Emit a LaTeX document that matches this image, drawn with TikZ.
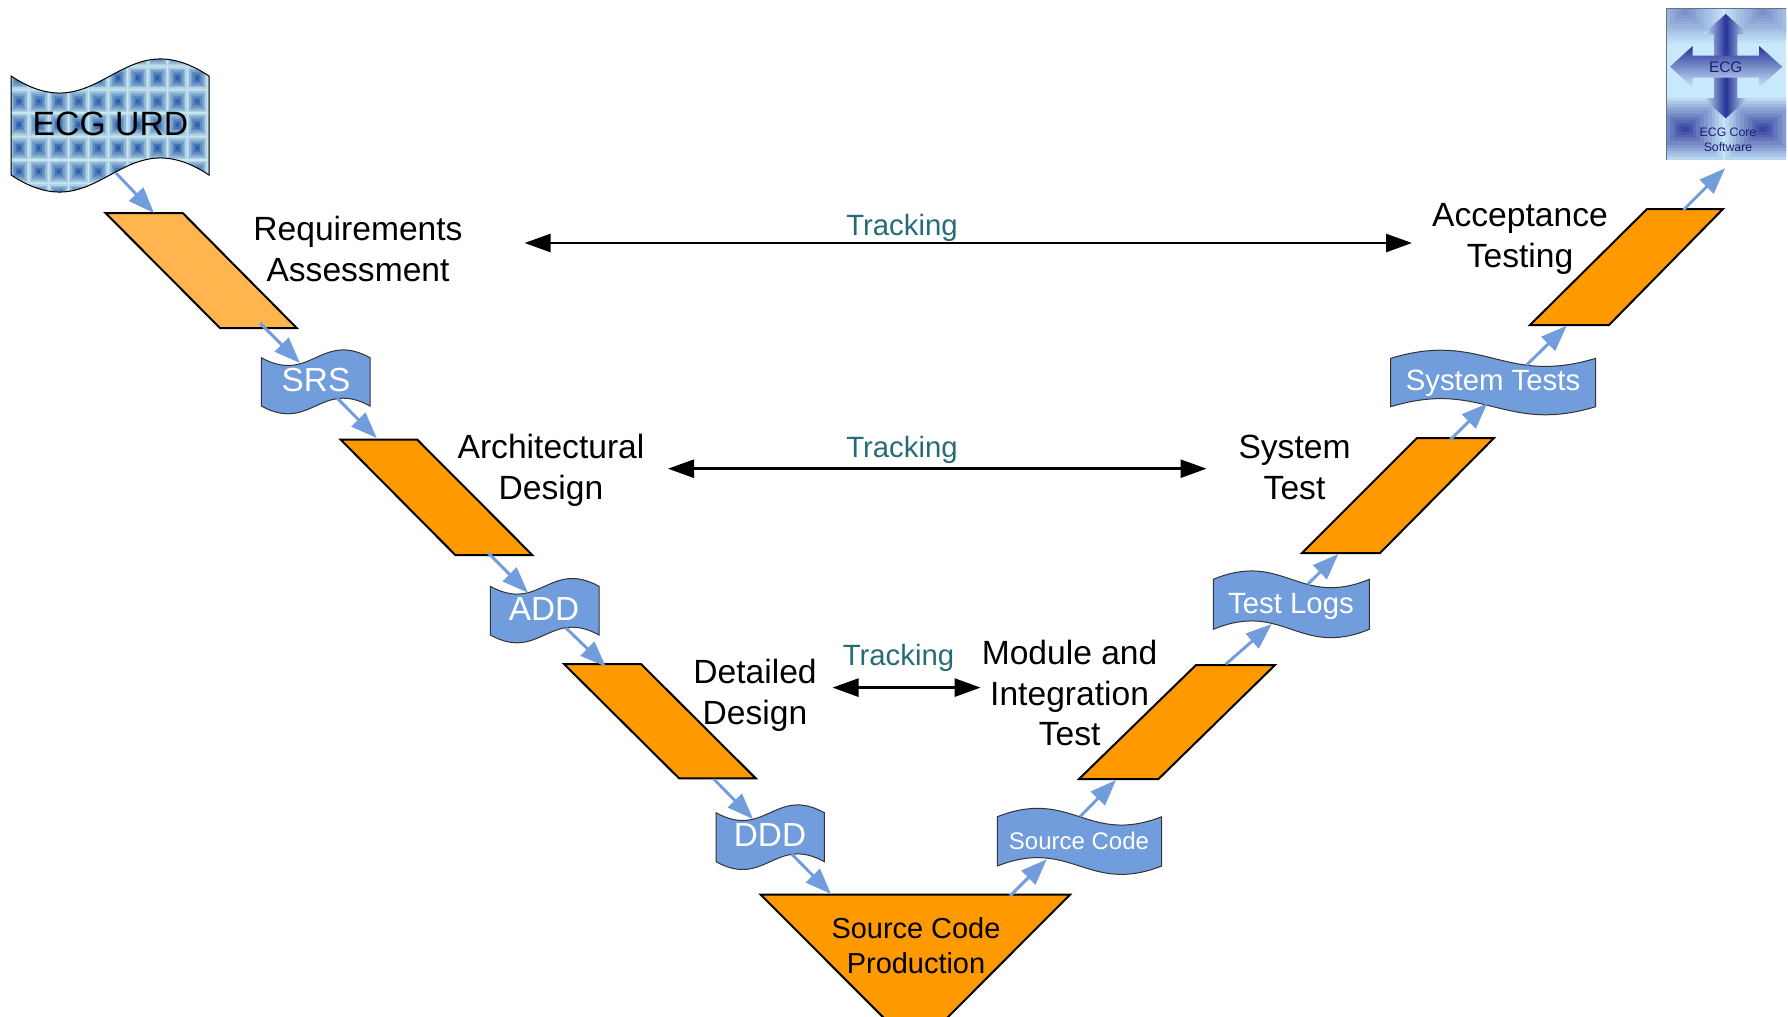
\documentclass[tikz,border=0pt]{standalone}
\usepackage{fontspec}
\setmainfont{Liberation Sans}
\usetikzlibrary{arrows.meta}
\definecolor{flowblue}{RGB}{113,157,220}
\definecolor{steporange}{RGB}{255,153,0}
\definecolor{steplight}{RGB}{255,181,77}
\definecolor{trackteal}{RGB}{38,108,120}
\definecolor{tiledark}{RGB}{45,95,170}
\definecolor{tilelight}{RGB}{200,232,240}
\definecolor{logobg}{RGB}{200,232,251}
\definecolor{logodark}{RGB}{40,50,150}
\definecolor{logotext}{RGB}{30,30,110}
% l, r, top, bottom, swing
\newcommand{\wavedoc}[5]{(#1,#3) .. controls ({#1+(#2-#1)*0.45},{#3+#5}) and ({#1+(#2-#1)*0.55},{#3-#5}) .. (#2,#3) -- (#2,#4) .. controls ({#1+(#2-#1)*0.55},{#4-#5}) and ({#1+(#2-#1)*0.45},{#4+#5}) .. (#1,#4) -- cycle}
\tikzset{
  stepshape/.style={draw=black,line width=1.5pt,fill=steporange,line join=miter},
  docshape/.style={draw=black!80,line width=0.75pt,fill=flowblue},
  flowline/.style={draw=flowblue,line width=2.2pt,-{Triangle[length=19.5pt,width=14.5pt]}},
  trackline/.style={draw=black,line width=2pt,{Triangle[length=19.5pt,width=13.5pt]}-{Triangle[length=19.5pt,width=13.5pt]}},
  steptext/.style={align=center,font=\fontsize{25.2}{30.5}\selectfont},
  tracktext/.style={text=trackteal,font=\fontsize{22}{26}\selectfont},
  doctext/.style={text=white,font=\fontsize{25}{30}\selectfont},
  smalldoctext/.style={text=white,font=\fontsize{22}{26}\selectfont},
}
\begin{document}
\begin{tikzpicture}[x=0.75pt,y=0.75pt,yscale=-1,xscale=1]
\clip [use as bounding box] (0,0) rectangle (1788,1017);

%Shape: Wave ECG URD
\begin{scope}
  \clip \wavedoc{11}{209}{76}{175}{59};
  \fill [tilelight] (0,40) rectangle (220,200);
  \foreach \col in {0,...,10}{
    \foreach \row in {-1,...,5}{
      \foreach \sz/\mix in {9.4/85,8/65,6.4/48,4.8/32,3.2/16,1.6/0}{
        \fill [tilelight!\mix!tiledark] ({19+19.8*\col-\sz},{78+23.4*\row-\sz*1.18}) rectangle ({19+19.8*\col+\sz},{78+23.4*\row+\sz*1.18});
      }
    }
  }
\end{scope}
\draw [draw=black,line width=0.75pt] \wavedoc{11}{209}{76}{175}{59};

%Shape: Parallelogram
\draw [stepshape,fill=steplight] (105.5,213) -- (182.7,213) -- (296.7,328) -- (220,328) -- cycle ;
\draw [stepshape] (340.7,439.7) -- (417.3,439.7) -- (532.3,555) -- (455.3,555) -- cycle ;
\draw [stepshape] (564,664) -- (641,664) -- (755.7,778.3) -- (679,778.3) -- cycle ;
\draw [stepshape] (1196,665) -- (1275,665) -- (1158.5,779) -- (1079,779) -- cycle ;
\draw [stepshape] (1417,438) -- (1494,438) -- (1380,553) -- (1302,553) -- cycle ;
\draw [stepshape] (1647,209) -- (1723,209) -- (1609,325) -- (1530,325) -- cycle ;
%Shape: Triangle
\draw [stepshape] (760.7,894.7) -- (1070,894.7) -- (915.4,1049.6) -- cycle ;

%Shape: Wave
\draw [docshape] \wavedoc{261.3}{370}{357.7}{406}{27};
\draw [docshape] \wavedoc{490.3}{599}{586.3}{635}{27};
\draw [docshape] \wavedoc{716}{824.3}{812.7}{861.7}{27};
\draw [docshape] \wavedoc{997.3}{1161.7}{816.7}{866}{-29};
\draw [docshape] \wavedoc{1213.3}{1369.3}{579.3}{629.3}{-29};
\draw [docshape] \wavedoc{1390.7}{1595.7}{358.3}{406.7}{-28};

%Logo
\begin{scope}
  \clip (1666.3,8) rectangle (1786,160);
  \fill [logobg] (1666.3,8) rectangle (1786,160);
  \foreach \cx/\cy/\peak in {1685/129/88,1763/129/88,1685/12/48,1763/12/48}{
    \foreach \st in {1,...,10}{
      \pgfmathsetmacro\mixval{\peak*\st/10}
      \fill [logodark!\mixval!logobg] ({\cx-38*(11-\st)/10},{\cy-31*(11-\st)/10}) rectangle ({\cx+38*(11-\st)/10},{\cy+31*(11-\st)/10});
    }
  }
  \shade [left color=logobg,right color=logobg,middle color=logodark] (1725.7,14) -- (1748.2,34) -- (1737.4,34) -- (1737.4,98) -- (1748.2,98) -- (1725.7,118.3) -- (1703.2,98) -- (1714,98) -- (1714,34) -- (1703.2,34) -- cycle ;
  \shade [top color=logodark,middle color=logodark!42!logobg,bottom color=logobg] (1670,66.7) -- (1692.7,45.9) -- (1692.7,55.7) -- (1759,55.7) -- (1759,45.9) -- (1782.3,66.7) -- (1759,87.5) -- (1759,77.7) -- (1692.7,77.7) -- (1692.7,87.5) -- cycle ;
\end{scope}
\draw [draw=black!50!logobg,line width=0.75pt] (1666.3,160) -- (1666.3,8) -- (1786,8) ;

%Connector ends
\coordinate (urdout) at (116,173);
\coordinate (reqin) at (154,213);
\coordinate (reqout) at (260,323);
\coordinate (srsin) at (300,363);
\coordinate (srsout) at (337,398);
\coordinate (archin) at (376.7,438);
\coordinate (archout) at (488,552.7);
\coordinate (addin) at (528,592.7);
\coordinate (addout) at (566,628);
\coordinate (detin) at (606,666.7);
\coordinate (detout) at (714,779.3);
\coordinate (dddin) at (753,819);
\coordinate (dddout) at (791.7,854);
\coordinate (prodin) at (831,894);
\coordinate (prodout) at (1010,896);
\coordinate (srcin) at (1046.7,859.3);
\coordinate (srcout) at (1080,816.7);
\coordinate (modin) at (1116,780);
\coordinate (modout) at (1225.7,664.3);
\coordinate (logsin) at (1271.7,624);
\coordinate (logsout) at (1307.7,584.3);
\coordinate (sysin) at (1338.3,554);
\coordinate (sysout) at (1450,440);
\coordinate (testsin) at (1487.3,403.3);
\coordinate (testsout) at (1526.7,365);
\coordinate (accin) at (1566.7,325.7);
\coordinate (accout) at (1683.3,210);
\coordinate (logoin) at (1725,168.3);
\coordinate (trackaleft) at (524.5,243);
\coordinate (trackaright) at (1412,243);
\coordinate (trackbleft) at (668,468.7);
\coordinate (trackbright) at (1206.5,468.7);
\coordinate (trackcleft) at (832.5,687.6);
\coordinate (trackcright) at (980.6,687.6);

%Straight Lines
\draw [flowline] (urdout) -- (reqin);
\draw [flowline] (reqout) -- (srsin);
\draw [flowline] (srsout) -- (archin);
\draw [flowline] (archout) -- (addin);
\draw [flowline] (addout) -- (detin);
\draw [flowline] (detout) -- (dddin);
\draw [flowline] (dddout) -- (prodin);
\draw [flowline] (prodout) -- (srcin);
\draw [flowline] (srcout) -- (modin);
\draw [flowline] (modout) -- (logsin);
\draw [flowline] (logsout) -- (sysin);
\draw [flowline] (sysout) -- (testsin);
\draw [flowline] (testsout) -- (accin);
\draw [flowline] (accout) -- (logoin);
\draw [trackline] (trackaleft) -- (trackaright);
\draw [trackline] (trackbleft) -- (trackbright);
\draw [trackline] (trackcleft) -- (trackcright);

% Text Node
\draw (110.5,124) node [font=\fontsize{25.3}{30}\selectfont] (urdlabel) {ECG URD};
% Text Node
\draw (358,249) node [steptext] (reqlabel) {Requirements\\Assessment};
% Text Node
\draw (551,470.5) node [steptext] (archlabel) {Architectural\\Design};
% Text Node
\draw (755,695.5) node [steptext] (detlabel) {Detailed\\Design};
% Text Node
\draw (1069.6,693) node [steptext] (modlabel) {Module and\\Integration\\Test};
% Text Node
\draw (1294.5,467.5) node [steptext] (syslabel) {System\\Test};
% Text Node
\draw (1520,239) node [steptext] (acclabel) {Acceptance\\Testing};
% Text Node
\draw (916,945.5) node [align=center,font=\fontsize{21.7}{25.8}\selectfont] (prodlabel) {Source Code\\Production};
% Text Node
\draw (902,227.5) node [tracktext] (trackalabel) {Tracking};
% Text Node
\draw (902,449.5) node [tracktext] (trackblabel) {Tracking};
% Text Node
\draw (898.5,658) node [tracktext] (trackclabel) {Tracking};
% Text Node
\draw (316,380) node [doctext] (srslabel) {SRS};
% Text Node
\draw (544,609) node [doctext] (addlabel) {ADD};
% Text Node
\draw (770,835.5) node [doctext] (dddlabel) {DDD};
% Text Node
\draw (1079,840.5) node [text=white,font=\fontsize{18}{22}\selectfont] (srclabel) {Source Code};
% Text Node
\draw (1291,606.5) node [smalldoctext] (logslabel) {Test Logs};
% Text Node
\draw (1493,383.5) node [smalldoctext] (testslabel) {System Tests};
% Text Node
\draw (1725.7,67.5) node [text=logotext,font=\fontsize{11.5}{14}\selectfont] (logotitle) {ECG};
% Text Node
\draw (1728,139.5) node [align=center,text=logotext,font=\fontsize{9.2}{11.2}\selectfont] (logocaption) {ECG Core\\Software};
\end{tikzpicture}
\end{document}
